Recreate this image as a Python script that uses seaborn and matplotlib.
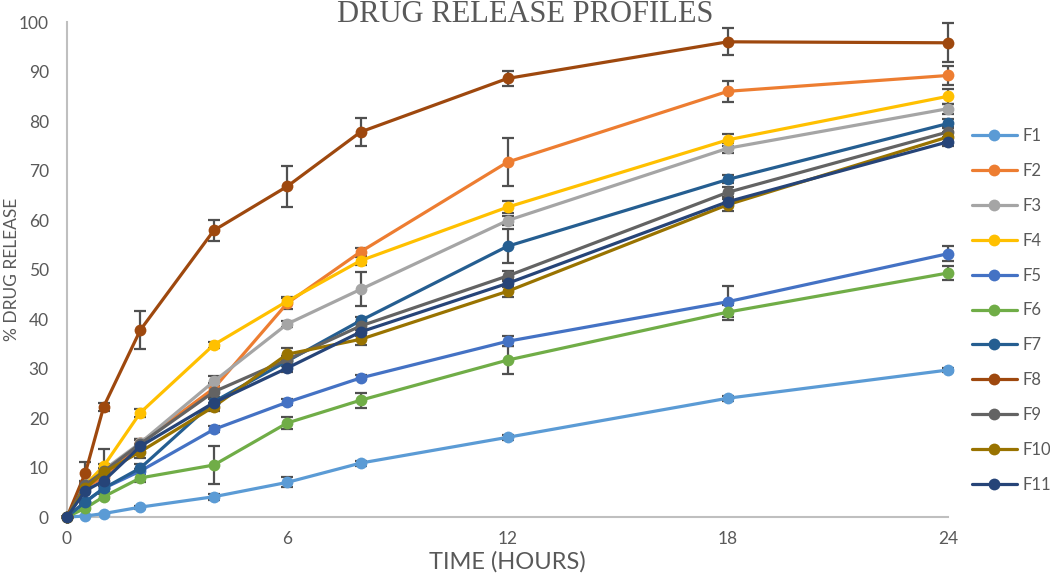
import pandas as pd
import numpy as np
import matplotlib.pyplot as plt
import seaborn as sns

# Zaman noktaları (saat)
time_h = [0, 0.5, 1, 2, 4, 6, 8, 12, 18, 24]

formulations = ["F1", "F2", "F3", "F4", "F5", "F6", "F7", "F8", "F9", "F10", "F11"]

# % ilaç salımı
F1 = [0, 0.2, 0.7, 2.0, 4.1, 7.0, 10.9, 16.1, 24.0, 29.7]
F2 = [0, 6.0, 8.0, 15.0, 26.0, 43.2, 53.6, 71.7, 86.0, 89.2]
F3 = [0, 6.8, 9.5, 15.0, 27.4, 39.0, 46.0, 59.9, 74.5, 82.5]
F4 = [0, 6.5, 10.3, 21.1, 34.8, 43.6, 51.8, 62.6, 76.2, 85.0]
F5 = [0, 3.0, 5.8, 9.3, 17.7, 23.2, 28.1, 35.5, 43.5, 53.2]
F6 = [0, 1.8, 4.1, 7.9, 10.5, 19.0, 23.6, 31.7, 41.4, 49.3]
F7 = [0, 3.1, 5.8, 9.9, 23.3, 31.5, 39.7, 54.7, 68.2, 79.5]
F8 = [0, 8.9, 22.3, 37.8, 57.9, 66.8, 77.8, 88.6, 96.0, 95.8]
F9 = [0, 6.5, 9.2, 14.8, 25.3, 31.8, 38.6, 48.7, 65.6, 77.8]
F10 = [0, 5.8, 9.0, 13.2, 22.3, 32.9, 35.9, 45.6, 63.1, 76.8]
F11 = [0, 5.3, 7.3, 14.3, 23.1, 30.1, 37.4, 47.2, 63.7, 75.8]

# Standart sapmalar
F1_err = [0, 0, 0, 0.3, 0.6, 1.0, 0.5, 0.5, 0.5, 0.5]
F2_err = [0, 0.5, 0.5, 0.8, 1.0, 1.2, 0.8, 4.8, 2.1, 2.0]
F3_err = [0, 0.5, 1.2, 0.8, 1.0, 0.6, 3.4, 1.0, 1.0, 1.0]
F4_err = [0, 0.5, 3.5, 0.8, 0.6, 0.6, 0.8, 1.2, 1.2, 1.5]
F5_err = [0, 0.3, 0.5, 0.5, 0.6, 0.6, 0.5, 1.0, 3.1, 1.5]
F6_err = [0, 0.3, 0.5, 0.8, 3.8, 1.2, 1.5, 2.9, 1.5, 1.5]
F7_err = [0, 0.3, 0.5, 0.8, 0.8, 1.0, 0.8, 3.4, 0.8, 1.0]
F8_err = [0, 2.2, 0.8, 3.8, 2.1, 4.2, 2.9, 1.5, 2.7, 3.9]
F9_err = [0, 0.5, 0.8, 0.8, 1.0, 0.8, 0.8, 1.0, 1.0, 1.0]
F10_err = [0, 0.5, 0.8, 1.2, 0.8, 1.2, 1.2, 1.2, 1.2, 1.0]
F11_err = [0, 0.3, 0.5, 0.5, 0.8, 0.8, 0.8, 0.8, 0.8, 0.8]

colors = ["#5B9BD5", "#ED7D31", "#A5A5A5", "#FFC000", "#4472C4", "#70AD47",
          "#255E91", "#9E480E", "#636363", "#997300", "#264478"]

values = [F1, F2, F3, F4, F5, F6, F7, F8, F9, F10, F11]
errors = [F1_err, F2_err, F3_err, F4_err, F5_err, F6_err, F7_err, F8_err, F9_err, F10_err, F11_err]

rows = []
for name, vals, errs in zip(formulations, values, errors):
    for t, v, e in zip(time_h, vals, errs):
        rows.append({"Zaman": t, "Salim": v, "Hata": e, "Formulasyon": name})
df = pd.DataFrame(rows)

sns.set_style("white")
plt.rcParams["font.family"] = ["Lato", "DejaVu Sans"]

fig = plt.figure(figsize=(10.5, 5.76), dpi=100)
ax = fig.add_axes([0.0638, 0.1024, 0.8392, 0.8594])

# Hata çubukları
for name in formulations:
    d = df[df["Formulasyon"] == name]
    ax.errorbar(d["Zaman"], d["Salim"], yerr=d["Hata"], fmt="none",
                ecolor="#505050", elinewidth=1.6, capsize=4, capthick=1.6,
                zorder=2, clip_on=False)

sns.lineplot(data=df, x="Zaman", y="Salim", hue="Formulasyon",
             hue_order=formulations, palette=colors, marker="o",
             markersize=8.5, markeredgewidth=0, linewidth=2.3,
             errorbar=None, ax=ax, zorder=3, clip_on=False)

ax.set_xlim(0, 24)
ax.set_ylim(0, 100)
ax.set_xticks([0, 6, 12, 18, 24])
ax.set_yticks(np.arange(0, 101, 10))
ax.tick_params(axis="both", length=0, labelsize=12.5, colors="#595959")
ax.tick_params(axis="x", pad=10)
ax.tick_params(axis="y", pad=13)

for s in ["top", "right"]:
    ax.spines[s].set_visible(False)
for s in ["left", "bottom"]:
    ax.spines[s].set_color("#BFBFBF")
    ax.spines[s].set_linewidth(1.5)

ax.set_xlabel("TIME (HOURS)", fontsize=17, color="#595959")
ax.xaxis.set_label_coords(0.5, -0.068)
ax.set_ylabel("% DRUG RELEASE", fontsize=12.5, color="#595959")
ax.yaxis.set_label_coords(-0.053, 0.5)

fig.text(0.5, 1 - 21.5 / 576, "DRUG RELEASE PROFILES", ha="center", va="baseline",
         fontsize=22, color="#595959", family="Liberation Serif")

leg = ax.legend(loc="upper left", bbox_to_anchor=(1.019, 0.799), frameon=False,
                fontsize=12, labelcolor="#595959", handlelength=2.75,
                handletextpad=0.3, labelspacing=1.13, borderaxespad=0)

fig.savefig("out.png", dpi=100)
